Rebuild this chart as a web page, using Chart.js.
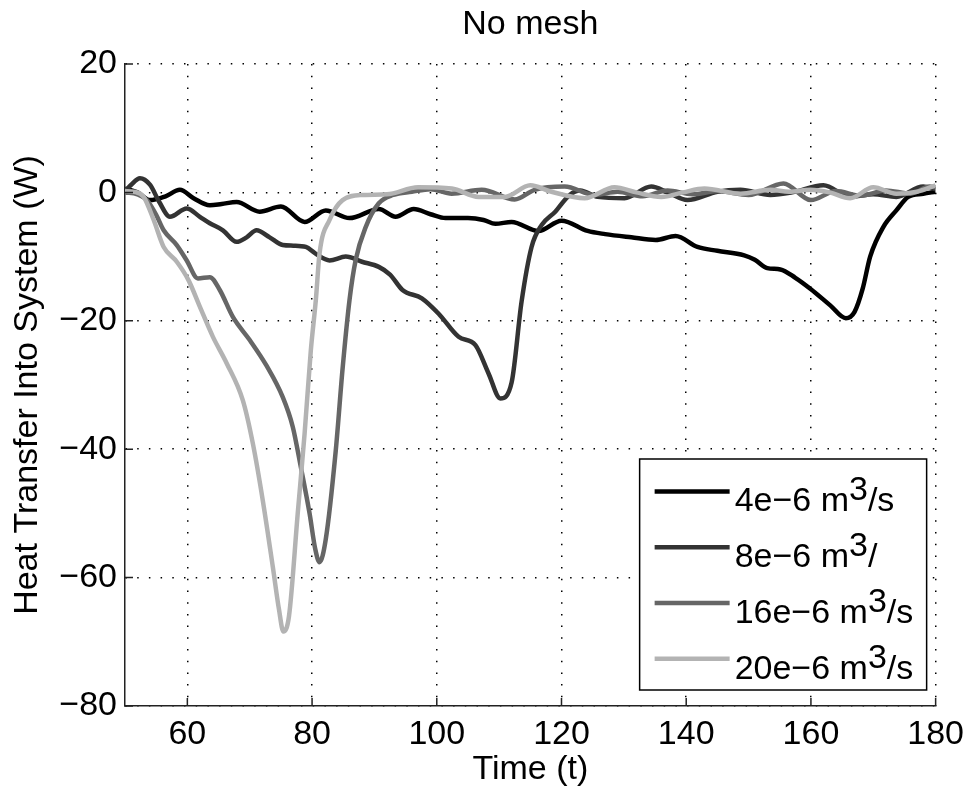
<!DOCTYPE html>
<html>
<head>
<meta charset="utf-8">
<script src="https://cdn.jsdelivr.net/npm/chart.js@4.4.0/dist/chart.umd.min.js"></script>
<style>
    html, body { margin: 0; padding: 0; background: #fff; }
    #wrap { width: 972px; height: 791px; }
</style>
</head>
<body>
<div id="wrap"><canvas id="js--chart" width="972" height="791"></canvas></div>
<script>
// series names + grey levels
const labels = ['4e−6 m³/s', '8e−6 m³/', '16e−6 m³/s', '20e−6 m³/s'];
const colors = ['#000000', '#333333', '#666666', '#b3b3b3'];

// 4e-6
const x4 = [50, 52, 54, 56.5, 58.8, 61, 63.6, 65.5, 67.9, 71.6, 75, 78.8, 82.2, 86, 90.7, 93.4, 96.3, 99, 101.4, 105, 107.5, 109.4, 112, 116.3, 120, 124.2, 127, 131.2, 135.1, 138.3, 141.8, 145, 149.3, 151, 153, 155.1, 157.5, 159.9, 163.1, 165.6, 167, 168.3, 169.5, 171.6, 173.7, 175.6, 178, 180];
const y4 = [0.6, 0, -1.2, -0.6, 0.4, -0.9, -2, -1.8, -1.5, -3, -2.2, -4.6, -2.8, -4, -2.6, -3.8, -2.6, -3.4, -4, -4, -4.3, -4.9, -4.6, -6, -4.4, -6, -6.5, -7, -7.4, -6.8, -8.5, -9.1, -9.8, -10.5, -11.8, -12, -13.3, -15, -17.6, -19.6, -18.6, -15, -10, -5.4, -2.8, -0.7, -0.2, 0.1];

// 8e-6
const x8 = [50, 51, 52.4, 54, 55.5, 57.2, 59.9, 62, 63.6, 65.7, 67.9, 69.5, 71.1, 73.2, 75.3, 77, 79, 80.5, 82.8, 85.4, 88, 90.7, 92.5, 94.5, 97.6, 100.3, 103.5, 106.2, 108.3, 110.2, 112, 113.6, 115.2, 116.8, 119, 121.3, 123, 125.8, 130.1, 134.4, 137, 140.2, 145, 148.7, 153.5, 157, 162, 166.3, 170, 173.7, 178, 180];
const y8 = [0.2, 1.2, 2.2, 1.2, -1.5, -3.8, -2.5, -3.8, -4.8, -5.9, -7.7, -7, -5.9, -7, -8.2, -8.3, -8.5, -9.5, -10.6, -10, -10.8, -11.6, -12.8, -15.2, -16.5, -18.9, -22.5, -23.8, -28.2, -32.1, -29.6, -17, -8.5, -5.1, -3, -0.4, 0.3, -0.7, -0.9, 0.9, 0, -1.2, 0.1, 0.4, -0.4, 0, 1.1, -0.7, -0.3, -0.7, 0.9, 0.5];

// 16e-6
const x16 = [50, 52, 53.5, 55, 56.2, 58.3, 59.9, 61.7, 63.6, 65.2, 67.3, 70, 72.7, 75.3, 76.9, 78.2, 79.6, 80.5, 81.2, 82.2, 83.8, 84.9, 86, 87, 88.6, 90.7, 93, 96, 99, 102.4, 107.2, 112.5, 115.7, 120.5, 125.3, 129, 133, 137, 141, 145, 150, 155.6, 160, 164, 168, 172, 176, 179, 180];
const y16 = [0, -0.3, -1.2, -3.5, -5.9, -8.2, -10.6, -13.4, -13.2, -15.2, -19.4, -23, -27, -31.9, -36.5, -42.8, -50, -55.5, -57.6, -54, -40.2, -27.4, -16.8, -10.5, -5.4, -1.7, -0.4, 0.1, 0.5, -0.2, 0.4, -1.1, 0.4, 0.9, -0.4, 0.1, -0.6, 0.3, -0.3, 0.2, -0.4, 1.4, -1.2, 0.2, -0.5, 0.3, -0.2, 0.9, 0.8];

// 20e-6
const x20 = [50, 51.5, 53, 54.6, 56.2, 58.3, 60.2, 62, 64.1, 66.3, 68.9, 70.5, 72.1, 73.7, 74.7, 75.4, 76.3, 77.7, 78.8, 79.8, 80.6, 81.2, 82.8, 84.9, 88.1, 92, 97, 102.4, 106.7, 110.9, 115, 118.4, 123.7, 128.5, 132, 136, 139.5, 142.9, 148.7, 153.5, 156.5, 159.9, 163, 166.3, 170, 173.7, 177, 180];
const y20 = [0.2, 0.1, -0.7, -4.3, -8.5, -10.8, -13.7, -17.8, -22.5, -26.6, -32.4, -39.1, -48, -58.3, -65, -68.4, -66, -50, -37.6, -24.6, -16.8, -9.5, -4.3, -1.2, -0.4, -0.3, 0.8, 0.6, -0.7, -0.7, 1.1, 0.1, -0.9, 0.8, 0, -0.7, 0, 0.6, -0.2, 0.4, 0.1, 0.4, 0, -0.9, 0.8, -0.2, 0.1, 1.1];

const xTicks = [60, 80, 100, 120, 140, 160, 180];
const yTicks = [-80, -60, -40, -20, 0, 20];

const seriesX = [x4, x8, x16, x20];
const seriesY = [y4, y8, y16, y20];

Chart.defaults.font.family = "'Liberation Sans', Arial, sans-serif";
Chart.defaults.font.size = 34;
Chart.defaults.color = '#000';

function toPoints(xs, ys) {
    return xs.map(function (x, i) {
        return { x: x, y: ys[i] };
    });
}

// matlab style ticks pointing into the plot
const inwardTicks = {
    id: 'inwardTicks',
    afterDatasetsDraw(chart) {
        const ctx = chart.ctx;
        const area = chart.chartArea;
        ctx.save();
        ctx.strokeStyle = '#222';
        ctx.lineWidth = 1.5;
        ctx.beginPath();
        xTicks.forEach(function (v) {
            const px = chart.scales.x.getPixelForValue(v);
            ctx.moveTo(px, area.bottom);
            ctx.lineTo(px, area.bottom - 8);
        });
        yTicks.forEach(function (v) {
            const py = chart.scales.y.getPixelForValue(v);
            ctx.moveTo(area.left, py);
            ctx.lineTo(area.left + 8, py);
        });
        ctx.stroke();
        ctx.restore();
    }
};

// boxed legend in the lower right corner
const legendBox = {
    id: 'legendBox',
    afterDraw(chart) {
        const ctx = chart.ctx;
        const area = chart.chartArea;
        const left = area.right - 296;
        const top = area.bottom - 247;
        ctx.save();
        ctx.fillStyle = '#fff';
        ctx.fillRect(left, top, 287, 231);
        ctx.strokeStyle = '#000';
        ctx.lineWidth = 1.5;
        ctx.strokeRect(left, top, 287, 231);
        ctx.font = "34px 'Liberation Sans', Arial, sans-serif";
        ctx.fillStyle = '#000';
        ctx.textAlign = 'left';
        ctx.textBaseline = 'alphabetic';
        chart.data.datasets.forEach(function (ds, i) {
            const rowY = top + 32.4 + i * 55.8;
            ctx.strokeStyle = ds.borderColor;
            ctx.lineWidth = 4.5;
            ctx.beginPath();
            ctx.moveTo(left + 15, rowY);
            ctx.lineTo(left + 90, rowY);
            ctx.stroke();
            const parts = ds.label.split('³');
            let tx = left + 95;
            ctx.fillText(parts[0], tx, rowY + 20);
            tx += ctx.measureText(parts[0]).width;
            if (parts.length > 1) {
                ctx.fillText('3', tx, rowY + 9);
                tx += ctx.measureText('3').width;
                ctx.fillText(parts[1], tx, rowY + 20);
            }
        });
        ctx.restore();
    }
};

const datasets = labels.map(function (label, i) {
    return {
        label: label,
        data: toPoints(seriesX[i], seriesY[i]),
        borderColor: colors[i],
        backgroundColor: colors[i],
        borderWidth: 4.5,
        pointRadius: 0,
        fill: false,
        cubicInterpolationMode: 'monotone',
        order: labels.length - i
    };
});

const config = {
    type: 'line',
    data: { datasets: datasets },
    options: {
        responsive: false,
        animation: false,
        devicePixelRatio: 1,
        layout: { padding: { left: 0, right: 33, top: 0, bottom: 0 } },
        plugins: {
            legend: { display: false },
            tooltip: { enabled: false },
            title: {
                display: true,
                text: 'No mesh',
                fullSize: false,
                color: '#000',
                font: { size: 34, weight: 'normal' },
                padding: { top: 4.4, bottom: 18.8 }
            }
        },
        scales: {
            x: {
                type: 'linear',
                min: 50,
                max: 180,
                afterBuildTicks: function (scale) {
                    scale.ticks = xTicks.map(function (v) { return { value: v }; });
                },
                afterFit: function (scale) { scale.height = 85; },
                ticks: { padding: 8, maxRotation: 0, color: '#000' },
                grid: { color: '#000', lineWidth: 1.5, drawTicks: false },
                border: { display: true, color: '#222', width: 1.5, dash: [1.5, 10.2] },
                title: {
                    display: true,
                    text: 'Time (t)',
                    color: '#000',
                    font: { size: 34 },
                    padding: { top: 0, bottom: 1.3 }
                }
            },
            y: {
                type: 'linear',
                min: -80,
                max: 20,
                afterBuildTicks: function (scale) {
                    scale.ticks = yTicks.map(function (v) { return { value: v }; });
                },
                afterFit: function (scale) { scale.width = 125; },
                ticks: {
                    padding: 8,
                    color: '#000',
                    callback: function (v) { return String(v).replace('-', '−'); }
                },
                grid: { color: '#000', lineWidth: 1.5, drawTicks: false },
                border: { display: true, color: '#222', width: 1.5, dash: [1.5, 10.2] },
                title: {
                    display: true,
                    text: 'Heat Transfer Into System (W)',
                    color: '#000',
                    font: { size: 34 },
                    padding: { top: 7.1, bottom: 0 }
                }
            }
        }
    },
    plugins: [inwardTicks, legendBox]
};

new Chart(document.getElementById('js--chart'), config);
</script>
</body>
</html>
